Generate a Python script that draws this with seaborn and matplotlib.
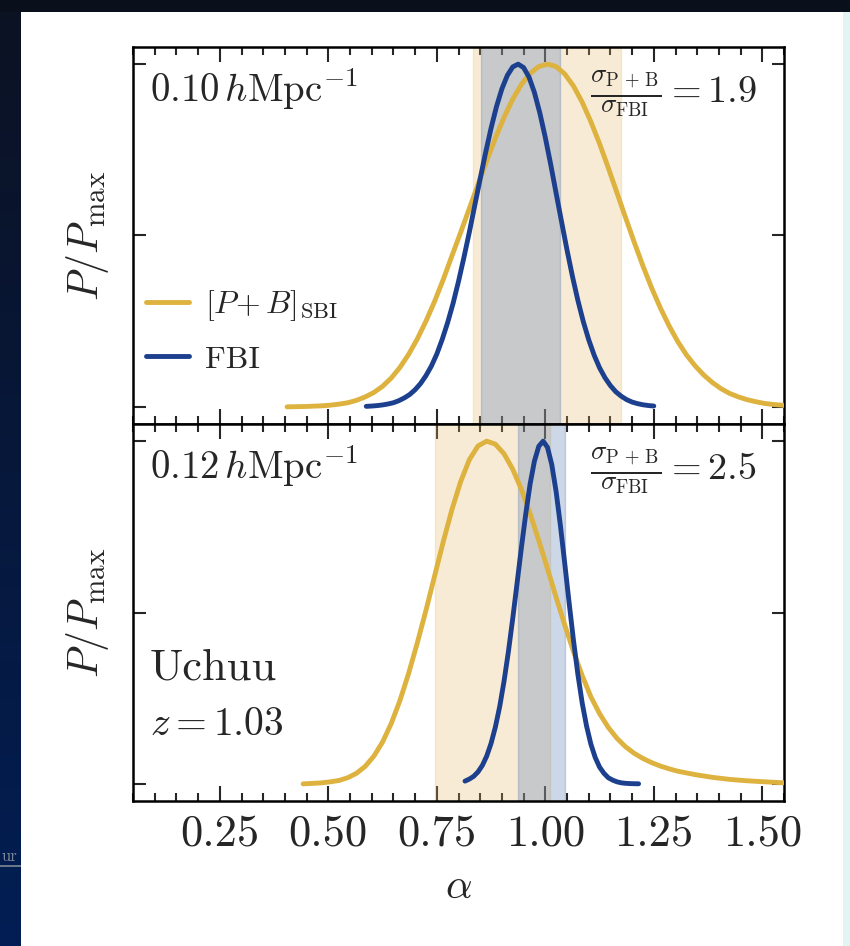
import numpy as np
import pandas as pd
import matplotlib
matplotlib.use("Agg")
import matplotlib.pyplot as plt
import seaborn as sns
from matplotlib.ticker import MultipleLocator

# ---------------- posterior curves, k_max = 0.10 h/Mpc ----------------
alpha_sbi_k010 = [0.405, 0.445, 0.465, 0.485, 0.505, 0.525, 0.545, 0.565, 0.585, 0.605,
                  0.625, 0.645, 0.665, 0.685, 0.705, 0.725, 0.745, 0.765, 0.785, 0.805,
                  0.825, 0.845, 0.865, 0.885, 0.905, 0.925, 0.945, 0.965, 0.985, 1.005,
                  1.025, 1.045, 1.065, 1.085, 1.105, 1.125, 1.145, 1.165, 1.185, 1.205,
                  1.225, 1.245, 1.265, 1.285, 1.305, 1.325, 1.345, 1.365, 1.385, 1.405,
                  1.425, 1.445, 1.465, 1.485, 1.505, 1.525, 1.545, 1.55]
post_sbi_k010 = [0.000, 0.001, 0.002, 0.003, 0.005, 0.008, 0.012, 0.019, 0.029, 0.042,
                 0.060, 0.084, 0.115, 0.153, 0.198, 0.250, 0.308, 0.372, 0.441, 0.509,
                 0.579, 0.649, 0.718, 0.784, 0.845, 0.898, 0.941, 0.973, 0.993, 1.000,
                 0.993, 0.971, 0.936, 0.889, 0.832, 0.768, 0.698, 0.625, 0.552, 0.480,
                 0.411, 0.347, 0.289, 0.237, 0.191, 0.152, 0.120, 0.093, 0.071, 0.053,
                 0.039, 0.029, 0.021, 0.015, 0.010, 0.007, 0.005, 0.004]

alpha_fbi_k010 = [0.5875, 0.6, 0.6125, 0.625, 0.6375, 0.65, 0.6625, 0.675, 0.6875, 0.7,
                  0.7125, 0.725, 0.7375, 0.75, 0.7625, 0.775, 0.7875, 0.8, 0.8125, 0.825,
                  0.8375, 0.85, 0.8625, 0.875, 0.8875, 0.9, 0.9125, 0.925, 0.9375, 0.95,
                  0.9625, 0.975, 0.9875, 1.0, 1.0125, 1.025, 1.0375, 1.05, 1.0625, 1.075,
                  1.0875, 1.1, 1.1125, 1.125, 1.1375, 1.15, 1.1625, 1.175, 1.1875, 1.2,
                  1.2125, 1.225, 1.2375, 1.25]
post_fbi_k010 = [0.0015, 0.0024, 0.0037, 0.0056, 0.0084, 0.012, 0.018, 0.026, 0.036, 0.050,
                 0.068, 0.091, 0.119, 0.154, 0.197, 0.246, 0.302, 0.366, 0.436, 0.510,
                 0.588, 0.666, 0.742, 0.813, 0.876, 0.928, 0.967, 0.992, 1.000, 0.990,
                 0.962, 0.917, 0.857, 0.786, 0.707, 0.623, 0.540, 0.458, 0.381, 0.311,
                 0.249, 0.196, 0.151, 0.114, 0.085, 0.062, 0.044, 0.031, 0.021, 0.014,
                 0.0094, 0.0061, 0.0039, 0.0024]

band_sbi_k010 = (0.833, 1.175)
band_fbi_k010 = (0.851, 1.033)
ratio_k010 = "1.9"

# ---------------- posterior curves, k_max = 0.12 h/Mpc ----------------
alpha_sbi_k012 = [0.442, 0.465, 0.485, 0.505, 0.525, 0.545, 0.565, 0.585, 0.605, 0.625,
                  0.645, 0.665, 0.685, 0.705, 0.725, 0.745, 0.765, 0.785, 0.805, 0.825,
                  0.845, 0.865, 0.885, 0.905, 0.925, 0.945, 0.965, 0.985, 1.005, 1.025,
                  1.045, 1.065, 1.085, 1.105, 1.125, 1.145, 1.165, 1.185, 1.205, 1.225,
                  1.245, 1.265, 1.285, 1.305, 1.345, 1.385, 1.425, 1.465, 1.505, 1.55]
post_sbi_k012 = [0.000, 0.0015, 0.003, 0.006, 0.010, 0.018, 0.031, 0.051, 0.081, 0.122,
                 0.176, 0.243, 0.322, 0.411, 0.506, 0.607, 0.707, 0.801, 0.882, 0.946,
                 0.986, 1.000, 0.991, 0.963, 0.918, 0.859, 0.788, 0.710, 0.628, 0.544,
                 0.463, 0.386, 0.316, 0.254, 0.205, 0.165, 0.133, 0.108, 0.089, 0.074,
                 0.062, 0.052, 0.044, 0.037, 0.027, 0.019, 0.013, 0.009, 0.006, 0.003]

alpha_fbi_k012 = [0.815, 0.825, 0.835, 0.845, 0.855, 0.865, 0.875, 0.885, 0.895, 0.905,
                  0.915, 0.925, 0.935, 0.945, 0.955, 0.965, 0.975, 0.985, 0.995, 1.005,
                  1.015, 1.025, 1.035, 1.045, 1.055, 1.065, 1.075, 1.085, 1.095, 1.105,
                  1.115, 1.125, 1.135, 1.145, 1.155, 1.165, 1.175, 1.185, 1.195, 1.205,
                  1.215]
post_fbi_k012 = [0.008, 0.014, 0.022, 0.035, 0.054, 0.081, 0.118, 0.166, 0.226, 0.300,
                 0.386, 0.483, 0.586, 0.690, 0.788, 0.875, 0.942, 0.985, 1.000, 0.982,
                 0.931, 0.852, 0.752, 0.641, 0.527, 0.418, 0.320, 0.236, 0.169, 0.116,
                 0.077, 0.049, 0.031, 0.018, 0.011, 0.006, 0.003, 0.0016, 0.0008, 0.0004,
                 0.0002]

band_sbi_k012 = (0.746, 1.010)
band_fbi_k012 = (0.938, 1.046)
ratio_k012 = "2.5"

scale_labels = [r"$0.10\,h\mathrm{Mpc}^{-1}$", r"$0.12\,h\mathrm{Mpc}^{-1}$"]
series_names = [r"$[P\!+B]_{\rm SBI}$", "FBI"]
x_ticks = [0.25, 0.50, 0.75, 1.00, 1.25, 1.50]

SBI_COLOR = "#DDB23E"
FBI_COLOR = "#1C3F8E"
SBI_BAND = "#E8B865"
FBI_BAND = "#587DB2"

sns.set_style("ticks")
plt.rcParams.update({
    "font.family": ["serif"],
    "font.serif": ["cmr10", "DejaVu Serif"],
    "mathtext.fontset": "cm",
    "axes.formatter.use_mathtext": True,
    "axes.unicode_minus": False,
    "axes.linewidth": 1.8,
    "axes.edgecolor": "black",
})

W, H = 850, 946
fig = plt.figure(figsize=(W / 100, H / 100), dpi=100, facecolor="white")

# slide background around the white panel
strip = fig.add_axes([0, 0, 21 / W, 1])
grad = np.linspace(0, 1, 256)[:, None]
top_c = np.array([12, 18, 34]) / 255
bot_c = np.array([2, 30, 84]) / 255
img = top_c[None, None, :] * (1 - grad[:, :, None]) + bot_c[None, None, :] * grad[:, :, None]
strip.imshow(img, aspect="auto", extent=[0, 1, 0, 1], origin="upper")
strip.text(0.05, 1 - 861 / H, "ur", color="#7d8796", fontsize=12, ha="left",
           va="baseline", transform=strip.transAxes)
strip.plot([0, 1], [1 - 866 / H, 1 - 866 / H], color="#7d8796", lw=1.2,
           transform=strip.transAxes, clip_on=True)
strip.set_axis_off()
topbar = fig.add_axes([0, 1 - 12 / H, 1, 12 / H])
topbar.set_facecolor("#0a0f1c")
topbar.set_xticks([]); topbar.set_yticks([])
for s in topbar.spines.values():
    s.set_visible(False)
rightbar = fig.add_axes([843 / W, 0, 7 / W, 1 - 12 / H])
rightbar.set_facecolor("#e3f4f4")
rightbar.set_xticks([]); rightbar.set_yticks([])
for s in rightbar.spines.values():
    s.set_visible(False)

ax_left = 133 / W
ax_w = (784 - 133) / W
ax_h = 377 / H
ax_top = fig.add_axes([ax_left, (H - 424) / H, ax_w, ax_h])
ax_bot = fig.add_axes([ax_left, (H - 801) / H, ax_w, ax_h])

panels = [
    (ax_top, alpha_sbi_k010, post_sbi_k010, alpha_fbi_k010, post_fbi_k010,
     band_sbi_k010, band_fbi_k010, ratio_k010, scale_labels[0]),
    (ax_bot, alpha_sbi_k012, post_sbi_k012, alpha_fbi_k012, post_fbi_k012,
     band_sbi_k012, band_fbi_k012, ratio_k012, scale_labels[1]),
]

for i, (ax, a_s, p_s, a_f, p_f, b_s, b_f, ratio, klab) in enumerate(panels):
    ax.axvspan(*b_s, color=SBI_BAND, alpha=0.27, lw=1, zorder=1)
    ax.axvspan(*b_f, color=FBI_BAND, alpha=0.30, lw=1, zorder=1)
    df_s = pd.DataFrame({"alpha": a_s, "P": p_s})
    df_f = pd.DataFrame({"alpha": a_f, "P": p_f})
    sns.lineplot(data=df_s, x="alpha", y="P", ax=ax, color=SBI_COLOR, lw=3.5,
                 estimator=None, sort=False, label=series_names[0], zorder=3,
                 solid_joinstyle="round")
    sns.lineplot(data=df_f, x="alpha", y="P", ax=ax, color=FBI_COLOR, lw=3.5,
                 estimator=None, sort=False, label=series_names[1], zorder=4,
                 solid_joinstyle="round")

    ax.set_xlim(0.05, 1.55)
    ax.set_ylim(-0.05, 1.05)
    ax.xaxis.set_major_locator(MultipleLocator(0.25))
    ax.xaxis.set_minor_locator(MultipleLocator(0.05))
    ax.set_yticks([0.0, 0.5, 1.0])
    ax.tick_params(which="both", direction="in", top=True, right=True,
                   labelleft=False, width=1.5)
    ax.tick_params(which="major", length=11)
    ax.tick_params(which="minor", length=6)
    ax.tick_params(axis="y", which="major", length=9)
    ax.set_ylabel(r"$P/P_{\rm max}$", fontsize=30, labelpad=16)
    ax.set_xlabel("")

    ax.text(0.026, 0.853, klab, transform=ax.transAxes, fontsize=28,
            ha="left", va="baseline")
    ax.text(0.958, 0.853,
            r"$\frac{\sigma_{\rm P\,+\,B}}{\sigma_{\rm FBI}}=" + ratio + "$",
            transform=ax.transAxes, fontsize=27.5, ha="right", va="baseline")

ax_top.tick_params(labelbottom=False)
ax_top.legend(loc="lower left", bbox_to_anchor=(0.0, 0.10), frameon=False,
              fontsize=23, handlelength=1.35, handletextpad=0.5, labelspacing=0.7,
              borderaxespad=0.0)
ax_bot.get_legend().remove()

ax_bot.set_xticks(x_ticks)
ax_bot.set_xticklabels([f"{t:.2f}" for t in x_ticks])
ax_bot.tick_params(axis="x", labelsize=32, pad=10)
ax_bot.set_xlabel(r"$\alpha$", fontsize=30, labelpad=10)

ax_bot.text(0.026, 0.321, "Uchuu", transform=ax_bot.transAxes, fontsize=32,
            ha="left", va="baseline")
ax_bot.text(0.026, 0.175, r"$z=1.03$", transform=ax_bot.transAxes, fontsize=28.5,
            ha="left", va="baseline")

fig.savefig("out.png", dpi=100, facecolor=fig.get_facecolor())
